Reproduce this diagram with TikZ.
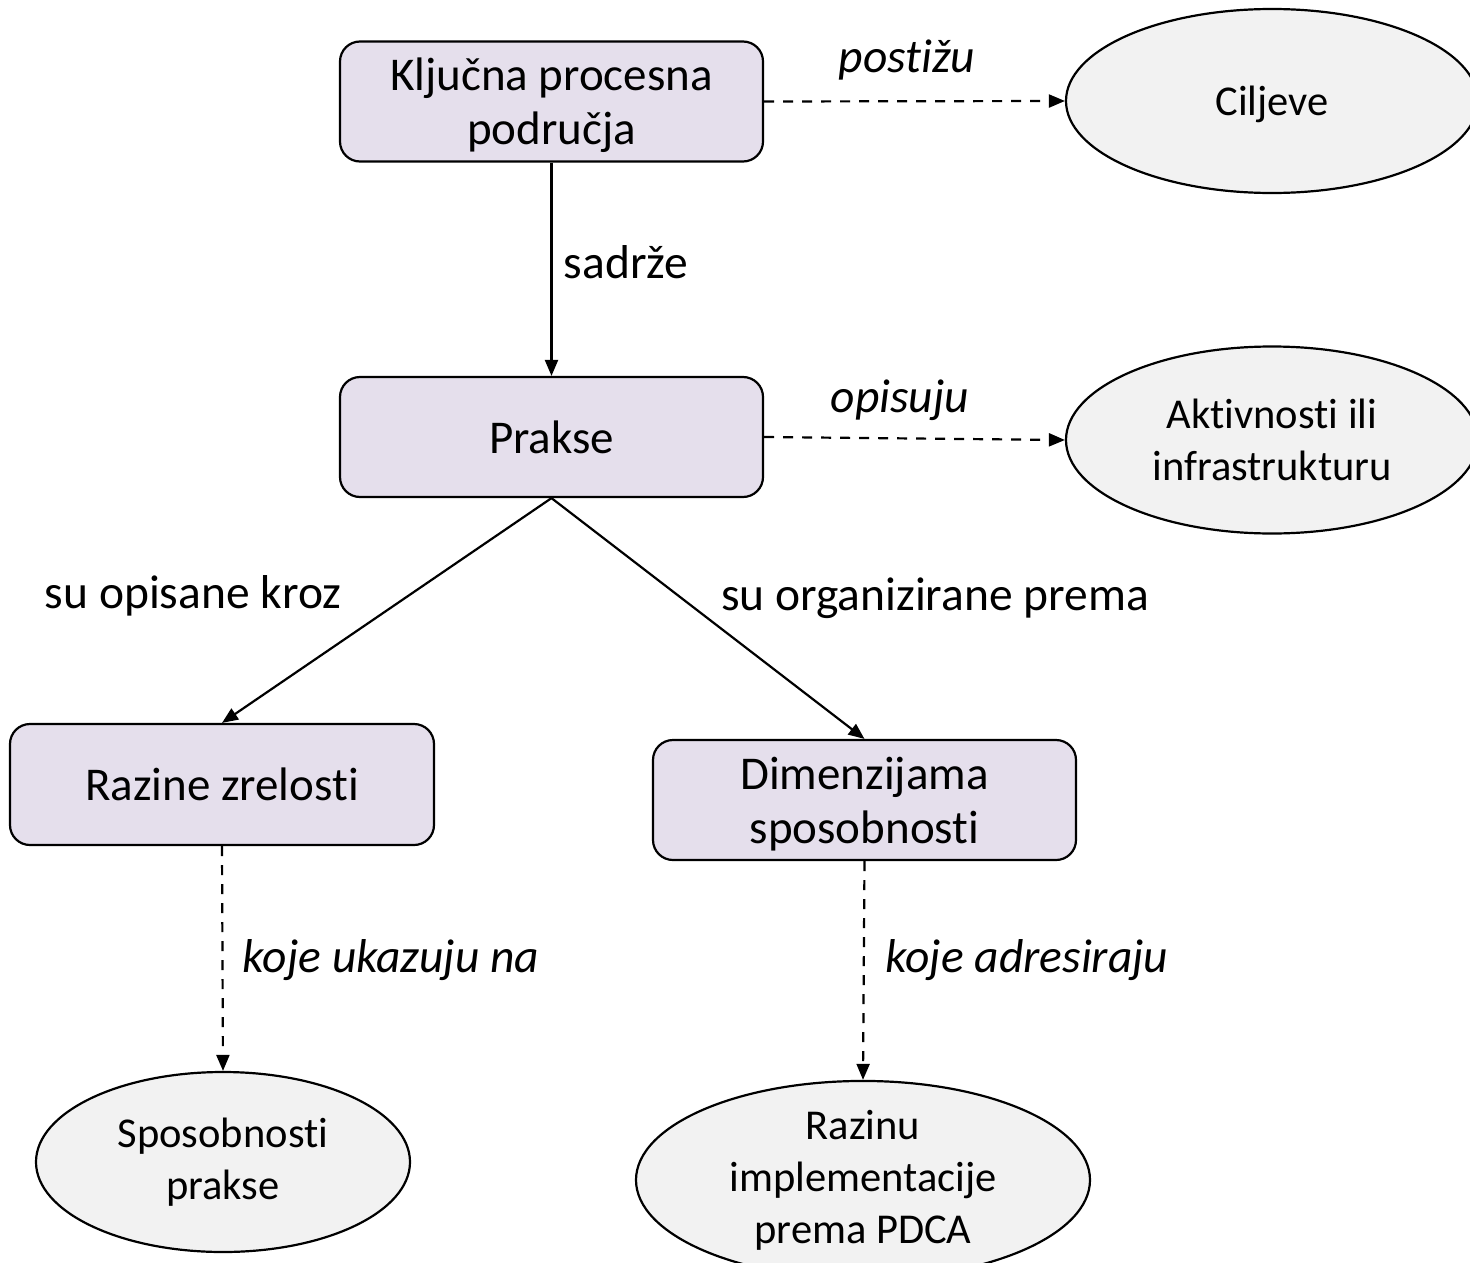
\documentclass[tikz,border=0pt]{standalone}
\usepackage{fontspec}
\setmainfont{Carlito}[RawFeature={-liga}]
\usetikzlibrary{shapes.geometric,arrows.meta}
\definecolor{boxfill}{HTML}{E5DFEC}
\definecolor{ellfill}{HTML}{F2F2F2}
\begin{document}
\begin{tikzpicture}[x=1pt,y=-1pt,
  box/.style={draw=black,line width=2.2pt,fill=boxfill,rounded corners=20pt,minimum width=423pt,minimum height=120pt,inner sep=0pt,align=center,font=\fontsize{47}{54}\selectfont},
  ell/.style={draw=black,line width=2.2pt,fill=ellfill,ellipse,inner sep=0pt,align=center,font=\fontsize{42.5}{52}\selectfont},
  lbl/.style={inner sep=0pt,font=\fontsize{47.5}{54}\selectfont},
  ilbl/.style={lbl,font=\fontsize{47.5}{54}\selectfont\itshape},
  arr/.style={line width=2.2pt,-{Triangle[length=16pt,width=13pt]}},
  darr/.style={arr,dash pattern=on 10pt off 9pt}]
\useasboundingbox (0,0) rectangle (1470,1263);
\clip (0,0) rectangle (1470,1263);
\node[box,text depth=-6pt] (kpp) at (551.5,101.5) {Ključna procesna\\područja};
\node[box] (prakse) at (551.5,437) {Prakse};
\node[box,minimum width=424pt,minimum height=121pt] (razine) at (222,784.5) {Razine zrelosti};
\node[box,text depth=-6pt] (dim) at (864.5,800) {Dimenzijama\\sposobnosti};
\node[ell,minimum width=412pt,minimum height=184pt,text depth=-6pt] (cilj) at (1272,101) {Ciljeve};
\node[ell,minimum width=412pt,minimum height=187pt] (akt) at (1272,440) {Aktivnosti ili\\infrastrukturu};
\node[ell,minimum width=374pt,minimum height=180pt] (spos) at (223,1162) {Sposobnosti\\prakse};
\node[ell,minimum width=454pt,minimum height=186pt] (raz) at (863,1180) {Razinu\\implementacije\\prema PDCA};
\draw[darr] (kpp.east) -- (cilj.west);
\draw[darr] (prakse.east) -- (akt.west);
\draw[arr] (kpp.south) -- (prakse.north);
\draw[arr] (prakse.south) -- (razine.north);
\draw[arr] (prakse.south) -- (dim.north);
\draw[darr] (razine.south) -- (spos.north);
\draw[darr] (dim.south) -- (raz.north);
\node[ilbl] (l1) at (907,60) {postižu};
\node[ilbl] (l2) at (900,400) {opisuju};
\node[lbl] (l3) at (626,262) {sadrže};
\node[lbl] (l4) at (193,596) {su opisane kroz};
\node[lbl] (l5) at (935,598) {su organizirane prema};
\node[ilbl] (l6) at (391,960) {koje ukazuju na};
\node[ilbl] (l7) at (1027,960) {koje adresiraju};
\end{tikzpicture}
\end{document}
